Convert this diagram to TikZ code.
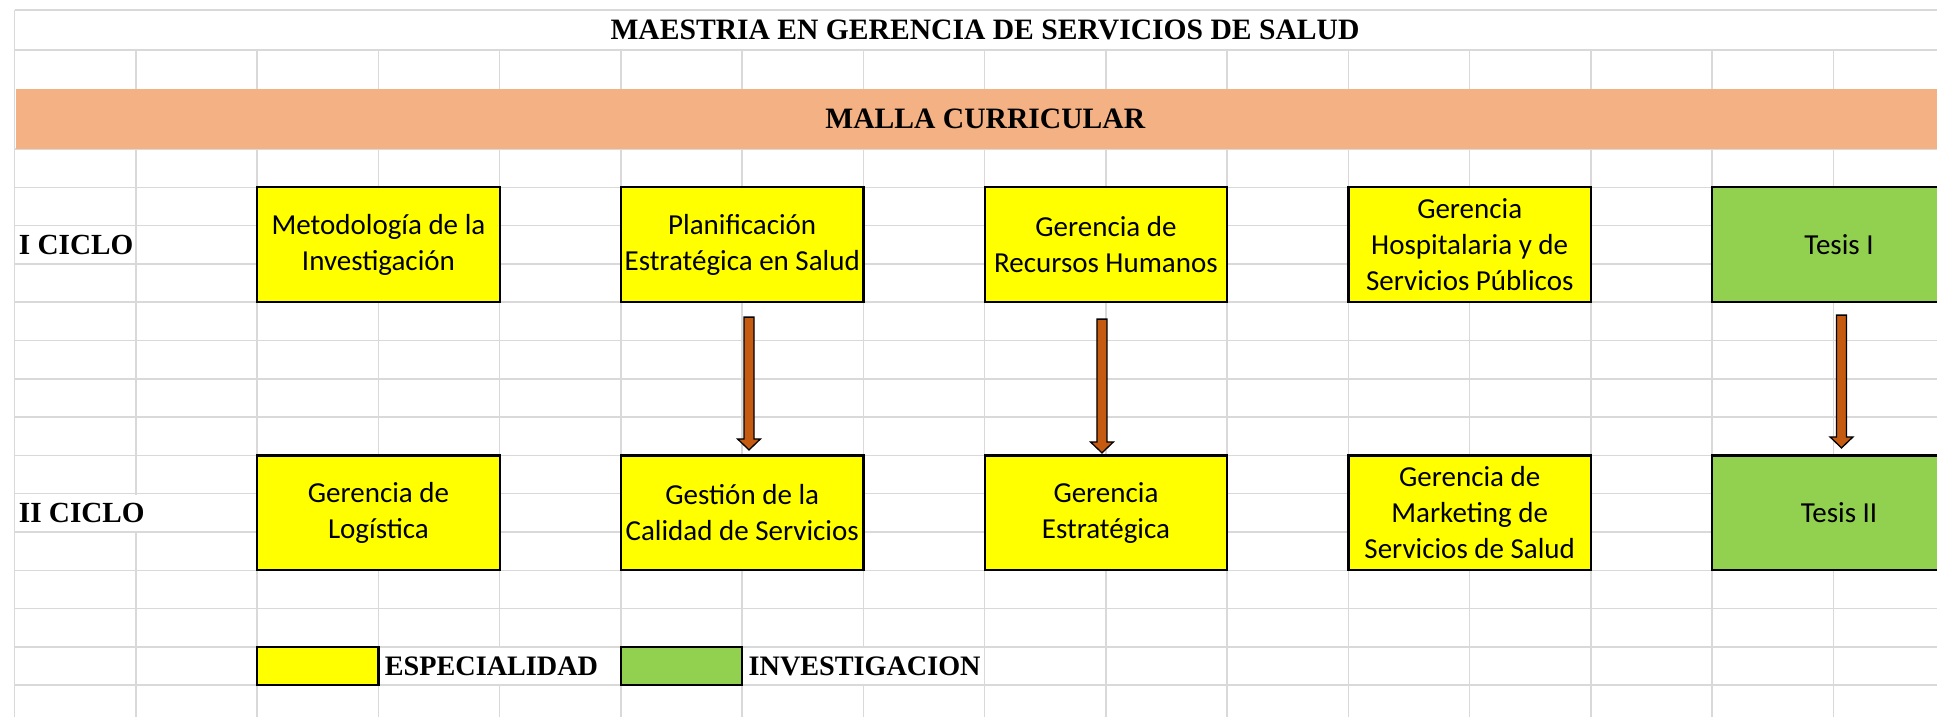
\documentclass[tikz,border=0pt]{standalone}
\usepackage{fontspec}
\setmainfont{Liberation Serif}
\newfontfamily\calibri{Carlito}
\usetikzlibrary{calc}
\definecolor{naranja}{HTML}{F4B183}
\definecolor{amarillo}{HTML}{FFFF00}
\definecolor{verde}{HTML}{92D050}
\definecolor{cafe}{HTML}{C55A11}
\definecolor{rejilla}{HTML}{D9D9D9}
\newcommand{\flecha}[2]{\draw [flechita] let \p1=#1, \p2=#2 in
    (\x1-2.5pt,\y1) -- (\x1+2.5pt,\y1) -- (\x1+2.5pt,\y2+5.5pt) -- (\x1+5.75pt,\y2+5.5pt)
    -- (\x1,\y2) -- (\x1-5.75pt,\y2+5.5pt) -- (\x1-2.5pt,\y2+5.5pt) -- cycle;}
\begin{document}
\begin{tikzpicture}[x=0.5pt,y=-0.5pt,
        rejillas/.style={draw=rejilla,line width=0.75pt},
        caja/.style={draw=black,line width=1.1pt,align=center,inner sep=0pt,
            font=\calibri\fontsize{14.5}{18}\selectfont,minimum width=121.25pt,minimum height=57.45pt},
        esp/.style={caja,fill=amarillo},
        inv/.style={caja,fill=verde},
        muestra/.style={minimum width=60.625pt,minimum height=19.15pt},
        titulo/.style={font=\fontsize{14.8}{17.8}\selectfont\bfseries},
        etiqueta/.style={font=\fontsize{14.6}{17.5}\selectfont\bfseries,fill=white,anchor=west,
            inner xsep=1pt,inner ysep=0pt,minimum height=18pt},
        flechita/.style={draw=black,line width=0.65pt,fill=cafe,line join=miter}]
    \useasboundingbox (0,0) rectangle (1937,717);
    % cuadricula
    \draw [rejillas] (14.7,10) -- (1937,10);
    \draw [rejillas] (14.7,50) -- (1937,50);
    \foreach \j in {0,...,14}
        \draw [rejillas] (14.7,149+38.3*\j) -- (1937,149+38.3*\j);
    \draw [rejillas] (14.7,10) -- (14.7,717);
    \foreach \k in {1,...,15}
        \draw [rejillas] (14.7+121.25*\k,50) -- (14.7+121.25*\k,717);
    \node [titulo] (maestria) at (985,30) {MAESTRIA EN GERENCIA DE SERVICIOS DE SALUD};
    \node [titulo,fill=naranja,inner sep=0pt,minimum width=969.75pt,minimum height=29.85pt] (malla) at (985.25,119.15) {MALLA CURRICULAR};
    \node [etiqueta] (ciclo1) at (16.5,244.75) {I CICLO};
    \node [etiqueta] (ciclo2) at (16.5,512.85) {II CICLO};
    % I ciclo
    \node [esp] (met) at (378.45,244.75) {Metodología de la\\Investigación};
    \node [esp] (pla) at (742.2,244.75) {Planificación\\Estratégica en Salud};
    \node [esp] (rrhh) at (1105.95,244.75) {Gerencia de\\Recursos Humanos};
    \node [esp] (hosp) at (1469.7,244.75) {Gerencia\\Hospitalaria y de\\Servicios Públicos};
    \node [inv,minimum width=126.8pt] (tes1) at (1839,244.75) {Tesis I};
    % II ciclo
    \node [esp] (log) at (378.45,512.85) {Gerencia de\\Logística};
    \node [esp] (cal) at (742.2,512.85) {Gestión de la\\Calidad de Servicios};
    \node [esp] (est) at (1105.95,512.85) {Gerencia\\Estratégica};
    \node [esp] (mkt) at (1469.7,512.85) {Gerencia de\\Marketing de\\Servicios de Salud};
    \node [inv,minimum width=126.8pt] (tes2) at (1839,512.85) {Tesis II};
    \flecha{([xshift=3.4pt,yshift=-6.9pt]pla.south)}{([xshift=3.4pt,yshift=2.2pt]cal.north)}
    \flecha{([xshift=-2pt,yshift=-7.9pt]rrhh.south)}{([xshift=-2pt,yshift=0.7pt]est.north)}
    \flecha{([xshift=1.25pt,yshift=-5.9pt]tes1.south)}{([xshift=1.25pt,yshift=3.2pt]tes2.north)}
    % leyenda
    \node [esp,muestra] (leyesp) at (317.8,666.05) {};
    \node [inv,muestra] (leyinv) at (681.55,666.05) {};
    \node [etiqueta,font=\fontsize{14.1}{17}\selectfont\bfseries] (txtesp) at ([xshift=1.5pt]leyesp.east) {ESPECIALIDAD};
    \node [etiqueta,font=\fontsize{14.1}{17}\selectfont\bfseries] (txtinv) at ([xshift=1.5pt]leyinv.east) {INVESTIGACION};
\end{tikzpicture}
\end{document}
